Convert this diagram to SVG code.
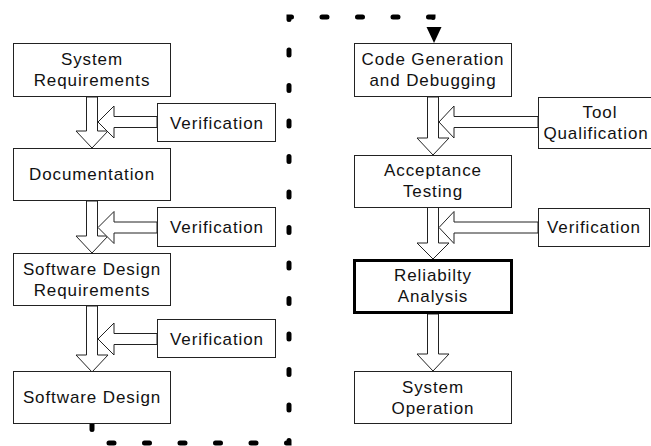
<svg xmlns="http://www.w3.org/2000/svg" width="651" height="446" viewBox="0 0 651 446">
<style>
.box{fill:#fff;stroke:#222;stroke-width:1}
.thick{fill:#fff;stroke:#000;stroke-width:3}
.blk{fill:#fff;stroke:#222;stroke-width:1;stroke-linejoin:miter}
text{font-family:"Liberation Sans",Arial,sans-serif;font-size:17px;fill:#111;text-anchor:middle;letter-spacing:0.9px}
.dots{fill:none;stroke:#000;stroke-width:5;stroke-linecap:round;stroke-dasharray:5 30.5}
</style>
<g id="connectors">
<polygon class="blk" points="86.5,97 97.5,97 97.5,131 108,131 92,148 76,131 86.5,131"/>
<polygon class="blk" points="86.5,201 97.5,201 97.5,236 108,236 92,253 76,236 86.5,236"/>
<polygon class="blk" points="86.5,306 97.5,306 97.5,355 108,355 92,372 76,355 86.5,355"/>
<polygon class="blk" points="157,116.5 114,116.5 114,106 98,122 114,138 114,127.5 157,127.5"/>
<polygon class="blk" points="157,222 114,222 114,211.5 98,227.5 114,243.5 114,233 157,233"/>
<polygon class="blk" points="157,333.5 114,333.5 114,323 98,339 114,355 114,344.5 157,344.5"/>
<polygon class="blk" points="427.5,97 438.5,97 438.5,138 449,138 433,155 417,138 427.5,138"/>
<polygon class="blk" points="427.5,207 438.5,207 438.5,243 449,243 433,259 417,243 427.5,243"/>
<polygon class="blk" points="427.5,314 438.5,314 438.5,354 449,354 433,371 417,354 427.5,354"/>
<polygon class="blk" points="538,116.5 454,116.5 454,106 439,122 454,138 454,127.5 538,127.5"/>
<polygon class="blk" points="538,222 454,222 454,211.5 439,227.5 454,243.5 454,233 538,233"/>
<path class="dots" d="M92,424.5 V443 H289 V17 H433 V27"/>
<polygon points="426.5,27 441.5,27 434,43" fill="#000"/>
</g>
<g id="n-sysreq">
<rect class="box" x="13.5" y="43.5" width="157" height="53"/>
<text x="92" y="64.5">System</text>
<text x="92" y="85.5">Requirements</text>
</g>
<g id="n-ver1">
<rect class="box" x="157.5" y="103.5" width="118" height="38"/>
<text x="217" y="128.5">Verification</text>
</g>
<g id="n-doc">
<rect class="box" x="13.5" y="148.5" width="157" height="52"/>
<text x="92" y="180">Documentation</text>
</g>
<g id="n-ver2">
<rect class="box" x="157.5" y="207.5" width="118" height="39"/>
<text x="217" y="233">Verification</text>
</g>
<g id="n-sdr">
<rect class="box" x="13.5" y="253.5" width="157" height="52"/>
<text x="92" y="275">Software Design</text>
<text x="92" y="296">Requirements</text>
</g>
<g id="n-ver3">
<rect class="box" x="157.5" y="319.5" width="118" height="38"/>
<text x="217" y="344.5">Verification</text>
</g>
<g id="n-sd">
<rect class="box" x="13.5" y="371.5" width="157" height="52"/>
<text x="92" y="403">Software Design</text>
</g>
<g id="n-codegen">
<rect class="box" x="354.5" y="43.5" width="157" height="53"/>
<text x="433" y="65">Code Generation</text>
<text x="433" y="86">and Debugging</text>
</g>
<g id="n-toolqual">
<rect class="box" x="538.5" y="97.5" width="122" height="51"/>
<text x="600" y="118">Tool</text>
<text x="596" y="138.5">Qualification</text>
</g>
<g id="n-accept">
<rect class="box" x="354.5" y="155.5" width="157" height="52"/>
<text x="433" y="176">Acceptance</text>
<text x="433" y="197">Testing</text>
</g>
<g id="n-ver4">
<rect class="box" x="538.5" y="208.5" width="111" height="38"/>
<text x="594" y="233">Verification</text>
</g>
<g id="n-reliab">
<rect class="thick" x="354.5" y="260.5" width="157" height="52"/>
<text x="433" y="281">Reliabilty</text>
<text x="433" y="302">Analysis</text>
</g>
<g id="n-sysop">
<rect class="box" x="354.5" y="371.5" width="157" height="52"/>
<text x="433" y="393">System</text>
<text x="433" y="414">Operation</text>
</g>
</svg>
